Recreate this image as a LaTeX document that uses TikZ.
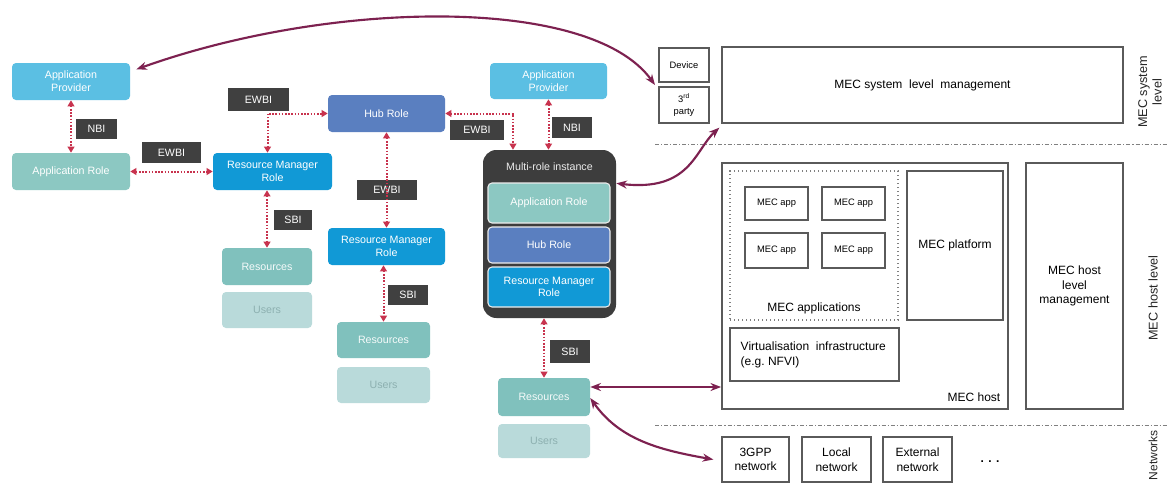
\documentclass[tikz,border=0pt]{standalone}
\usepackage{fontspec}
\setmainfont{Liberation Sans}
\usetikzlibrary{arrows.meta}
\definecolor{apc}{HTML}{5BBFE3}
\definecolor{arc}{HTML}{8CC8C2}
\definecolor{rmc}{HTML}{1199D6}
\definecolor{hubc}{HTML}{5A7FC0}
\definecolor{resc}{HTML}{80C1BD}
\definecolor{usrc}{HTML}{B9DADA}
\definecolor{usrt}{HTML}{8DB0B0}
\definecolor{lblc}{HTML}{404040}
\definecolor{mrc}{HTML}{3D3D3D}
\definecolor{ifcc}{HTML}{C8334E}
\definecolor{purc}{HTML}{7D2150}
\definecolor{linec}{HTML}{5A5A5A}
\newcommand\lfnt{\fontsize{8}{9.5}\selectfont}
\newcommand\rfnt{\fontsize{9}{11}\selectfont}
\newcommand\sfnt{\fontsize{7}{8.5}\selectfont}
\tikzset{
 rb/.style={rounded corners=3pt, minimum width=88.5pt, minimum height=27.75pt, text=white, font=\lfnt, align=center, inner sep=1pt},
 ap/.style={rb, fill=apc},
 ar/.style={rb, fill=arc},
 rm/.style={rb, fill=rmc},
 hub/.style={rb, fill=hubc},
 res/.style={rb, fill=resc, minimum width=67.5pt, text=white!92!resc},
 usr/.style={rb, fill=usrc, text=usrt, minimum width=67.5pt},
 inr/.style={draw=white!85!gray, line width=0.8pt},
 lbl/.style={fill=lblc, text=white, font=\lfnt, minimum height=15.5pt, inner sep=1pt},
 ifc/.style={draw=ifcc, line width=1.5pt, dash pattern=on 1.2pt off 1.2pt, {Triangle[length=4.5pt,width=5pt]}-{Triangle[length=4.5pt,width=5pt]}},
 pur/.style={draw=purc, line width=1.6pt, {Stealth[length=8pt,width=6pt]}-{Stealth[length=8pt,width=6pt]}},
 wb/.style={draw=linec, line width=1pt, font=\rfnt, align=center, inner sep=1pt},
 dd/.style={draw=gray, line width=0.7pt, dash pattern=on 3pt off 1.5pt on 0.8pt off 1.5pt},
 vl/.style={rotate=90, font=\fontsize{9.5}{11}\selectfont, align=center, text=black!85},
}
\begin{document}
\begin{tikzpicture}[x=0.75pt,y=-0.75pt]
\useasboundingbox[fill=white] (0,0) rectangle (1167,486);

% ---------- left part ----------
\node[ap] (ap1) at (71,81.5) {Application\\Provider};
\node[ar] (ar1) at (71,171.5) {Application Role};
\node[lbl, minimum width=30.75pt] (nbi1) at (96.5,129) {NBI};
\node[lbl, minimum width=44.25pt] (ewbi1) at (171.5,152.5) {EWBI};
\node[rm, minimum width=89.25pt] (rm1) at (272.5,171.5) {Resource Manager\\Role};
\node[lbl, minimum width=45.75pt, minimum height=17pt] (ewbi2) at (258.5,99.5) {EWBI};
\node[hub, minimum width=87.75pt] (hub1) at (386.5,113.5) {Hub Role};
\node[lbl, minimum width=40pt] (ewbi3) at (477,130) {EWBI};
\node[lbl, minimum width=45pt] (ewbi4) at (387,190) {EWBI};
\node[rm, minimum width=87.75pt] (rm2) at (386.5,246.5) {Resource Manager\\Role};
\node[lbl, minimum width=28.5pt] (sbi1) at (293,220) {SBI};
\node[res] (res1) at (267,266.5) {Resources};
\node[usr, minimum height=27pt] (usr1) at (267,310) {Users};
\node[lbl, minimum width=30pt] (sbi2) at (408,295) {SBI};
\node[res, minimum width=69.75pt, minimum height=27pt] (res2) at (383.5,340) {Resources};
\node[usr, minimum width=69.75pt, minimum height=27pt] (usr2) at (383.5,385) {Users};
\node[ap, minimum width=87.75pt, minimum height=27pt] (ap2) at (548.5,81) {Application\\Provider};
\node[lbl, minimum width=30pt] (nbi2) at (572,127.5) {NBI};
\node[fill=mrc, rounded corners=10pt, minimum width=99.75pt, minimum height=126pt] (mr) at (549.5,234) {};
\node[text=white!92!black, font=\lfnt] (mrt) at (549.5,167) {Multi-role instance};
\node[ar, inr, minimum width=91.5pt, minimum height=30pt] (ar2) at (549,203) {Application Role};
\node[hub, inr, minimum width=91.5pt, minimum height=27pt] (hub2) at (549,245) {Hub Role};
\node[rm, inr, minimum width=91.5pt, minimum height=30pt] (rm3) at (549,287) {Resource Manager\\Role};
\node[lbl, minimum width=30pt, minimum height=17pt] (sbi3) at (570,351.5) {SBI};
\node[res, minimum width=69pt, minimum height=28.5pt] (res3) at (544,397) {Resources};
\node[usr, minimum width=69pt, minimum height=25.5pt] (usr3) at (544,441) {Users};

% interfaces
\draw[ifc] (ap1) -- (ar1);
\draw[ifc] (ar1) -- (rm1);
\draw[ifc] ([xshift=-3.75pt]rm1.north) |- (hub1.west);
\draw[ifc] (hub1.east) -| ([xshift=-27.4pt]mr.north);
\draw[ifc] (hub1) -- (rm2);
\draw[ifc] (res1.north |- rm1.south) -- (res1.north);
\draw[ifc] (res2.north |- rm2.south) -- (res2.north);
\draw[ifc] (ap2.south) -- (ap2.south |- mr.north);
\draw[ifc] (res3.north |- mr.south) -- (res3.north);

% ---------- right part ----------
\node[wb, font=\sfnt, minimum width=37.5pt, minimum height=25.5pt] (dev) at (684,65) {Device};
\node[wb, font=\sfnt, minimum width=37.5pt, minimum height=27pt] (third) at (684,105) {3\textsuperscript{rd}\\party};
\node[wb, minimum width=300.75pt, minimum height=57pt] (sysm) at (922.5,85) {MEC system\ \ level\ \ management};
\node[vl] (sysl) at (1150,92) {MEC system\\level};
\coordinate (d1a) at (655,144);
\coordinate (d1b) at (1167,144);
\draw[dd] (d1a) -- (d1b);

\node[wb, line width=1.3pt, minimum width=214.5pt, minimum height=184.5pt] (host) at (865,286) {};
\node[draw=gray, dotted, line width=1pt, minimum width=126pt, minimum height=111.75pt] (apps) at (814,245.5) {};
\node[font=\rfnt] (appst) at (814,308) {MEC applications};
\node[wb, font=\sfnt, minimum width=47.25pt, minimum height=24.75pt] (app1) at (776.5,203.5) {MEC app};
\node[wb, font=\sfnt, minimum width=47.25pt, minimum height=24.75pt] (app2) at (853.5,203.5) {MEC app};
\node[wb, font=\sfnt, minimum width=47.25pt, minimum height=26.25pt] (app3) at (776.5,250.5) {MEC app};
\node[wb, font=\sfnt, minimum width=47.25pt, minimum height=26.25pt] (app4) at (853.5,250.5) {MEC app};
\node[wb, line width=1.3pt, minimum width=72pt, minimum height=111.75pt] (plat) at (955,245.5) {MEC platform};
\node[wb, line width=1.3pt, minimum width=126.75pt, minimum height=39.75pt] (virt) at (814.5,354.5) {};
\node[anchor=west, align=left, font=\rfnt] (virtt) at (736,355) {Virtualisation\ \ infrastructure\\(e.g.\ NFVI)};
\node[anchor=south east, font=\rfnt] (hostt) at (1005,406) {MEC host};
\node[wb, minimum width=72.75pt, minimum height=184.5pt] (hlm) at (1074.5,286) {MEC host\\level\\management};
\node[vl] (hl) at (1153,298) {MEC host level};
\coordinate (d2a) at (655,425);
\coordinate (d2b) at (1167,425);
\draw[dd] (d2a) -- (d2b);

\node[wb, minimum width=50.25pt, minimum height=33.75pt] (n3g) at (755.5,459.5) {3GPP\\network};
\node[wb, minimum width=51.75pt, minimum height=33.75pt] (nloc) at (836.5,459.5) {Local\\network};
\node[wb, minimum width=51.75pt, minimum height=33.75pt] (next) at (917.5,459.5) {External\\network};
\node[font=\rfnt\bfseries] (dots) at (990,462) {. . .};
\node[vl, font=\fontsize{9}{11}\selectfont] (netl) at (1153,455) {Networks};

% ---------- purple links ----------
\coordinate (dp) at (655,85);
\draw[pur] ([xshift=4.5pt,yshift=-5pt]ap1.north east) .. controls (330,0) and (590,-5) .. (dp);
\draw[pur] ([yshift=38pt]mr.east) .. controls (690,192) and (695,150) .. ([xshift=-1.5pt,yshift=-3pt]sysm.south west);
\draw[pur] ([yshift=7.5pt]res3.east) -- ([yshift=7.5pt]res3.east -| host.west);
\draw[pur] ([yshift=-0.75pt]res3.east) .. controls (620,440) and (660,450) .. ([xshift=-6pt]n3g.west);
\end{tikzpicture}
\end{document}
